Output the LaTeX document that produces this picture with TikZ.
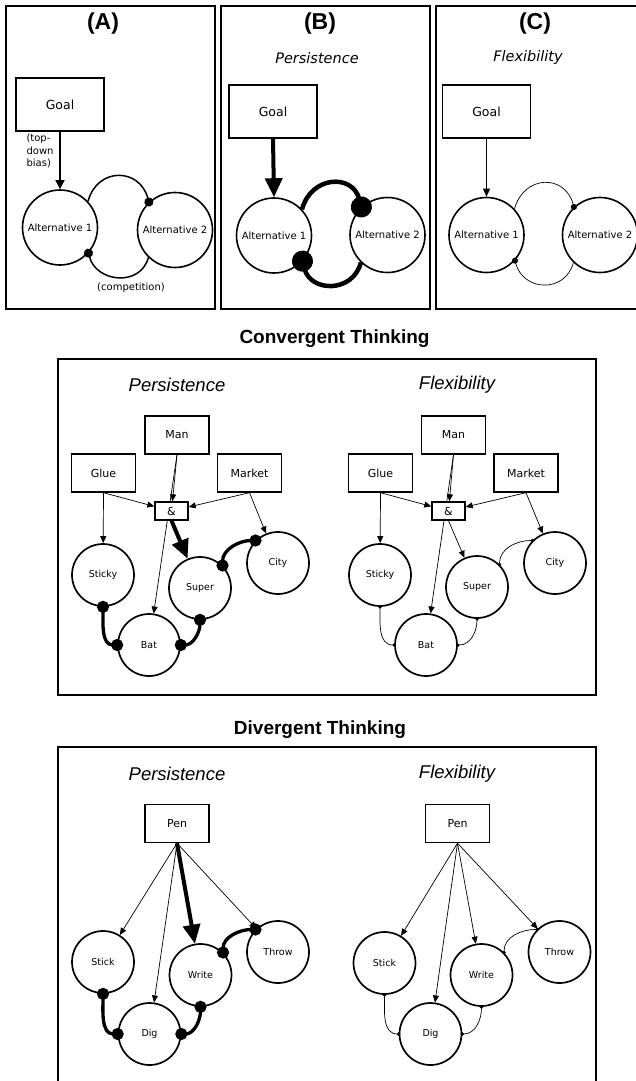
\documentclass[tikz,border=0pt]{standalone}
\usepackage{fontspec}
\setmainfont{DejaVu Sans}
\newfontfamily\headfont{Liberation Sans}
\usetikzlibrary{arrows.meta,backgrounds}

\tikzset{
  panel/.style={draw, line width=1.4pt},
  goalbox/.style={draw, fill=white, line width=1.4pt, minimum width=88pt, minimum height=53pt, font=\fontsize{12.5}{14}\selectfont},
  alt/.style={draw, circle, fill=white, line width=1.6pt, minimum size=75pt, inner sep=1pt, font=\fontsize{10}{12}\selectfont},
  cue/.style={draw, fill=white, line width=1.4pt, minimum width=64pt, minimum height=38pt, inner sep=0pt, font=\fontsize{11}{13}\selectfont},
  andbox/.style={draw, fill=white, line width=1.4pt, minimum width=33pt, minimum height=18pt, inner sep=0pt, font=\fontsize{11}{13}\selectfont},
  idea/.style={draw, circle, fill=white, line width=1.7pt, minimum size=62pt, inner sep=1pt, font=\fontsize{9.5}{11}\selectfont},
  smalltext/.style={font=\fontsize{10}{12.5}\selectfont},
  paneltitle/.style={font=\headfont\bfseries\fontsize{23}{26}\selectfont},
  heading/.style={font=\headfont\bfseries\fontsize{19}{22}\selectfont},
  modetitle/.style={font=\headfont\itshape\fontsize{18.5}{21}\selectfont},
  toptitle/.style={font=\itshape\fontsize{14.5}{17}\selectfont},
  weak/.style={-{Triangle[length=7pt,width=6pt]}, line width=0.7pt},
  strong/.style={-{Triangle[length=19pt,width=17pt]}, line width=4pt},
  biglink/.style={{Circle[length=12pt]}-{Circle[length=12pt]}, line width=3.3pt, shorten <=-6pt, shorten >=-6pt},
  thinlink/.style={{Circle[length=3.5pt]}-{Circle[length=3.5pt]}, line width=0.7pt, shorten <=-1.75pt, shorten >=-1.75pt},
  inhA/.style={-{Circle[length=9pt]}, line width=1.5pt, shorten >=-4.5pt},
  inhB/.style={-{Circle[length=21pt]}, line width=4.5pt, shorten >=-10.5pt},
  inhC/.style={-{Circle[length=6pt]}, line width=0.7pt, shorten >=-3pt},
}

\begin{document}
\begin{tikzpicture}[x=1pt,y=-1pt]
\useasboundingbox (0,0) rectangle (635,1081);

% (A)
\draw[panel] (6,6) rectangle (215,309);
\node[paneltitle] (titleA) at (103,24) {(A)};
\node[goalbox] (goalA) at (60,104.5) {Goal};
\node[alt] (altA1) at (60,227.5) {Alternative 1};
\node[alt] (altA2) at (175,230) {Alternative 2};
\node[smalltext, align=left, anchor=west] (bias) at (23,151) {(top-\\down\\bias)};
\node[smalltext] (comp) at (131,288) {(competition)};
\draw[-{Triangle[length=9pt,width=9pt]}, line width=1.5pt] (goalA) -- (altA1);
\draw[inhA] (altA1.43) to[out=75,in=105,looseness=1.5] (altA2.133);
\draw[inhA] (altA2.-134) to[out=-105,in=-75,looseness=1.3] (altA1.-42);

% (B)
\draw[panel] (221,6) rectangle (430,309);
\node[paneltitle] (titleB) at (320,24) {(B)};
\node[toptitle] (persB) at (317,58) {Persistence};
\node[goalbox] (goalB) at (273,111.5) {Goal};
\node[alt] (altB1) at (274,235.5) {Alternative 1};
\node[alt] (altB2) at (387.5,235) {Alternative 2};
\draw[strong] (goalB.south) -- (altB1.north);
\draw[inhB] (altB1.43) to[out=75,in=105,looseness=1.5] (altB2.133);
\draw[inhB] (altB2.-134) to[out=-105,in=-75,looseness=1.4] (altB1.-42);

% (C)
\draw[panel] (436,6) rectangle (641,309);
\node[paneltitle] (titleC) at (535,24) {(C)};
\node[toptitle] (flexC) at (528,58) {Flexibility};
\node[goalbox] (goalC) at (486.5,111.5) {Goal};
\node[alt] (altC1) at (486.5,235) {Alternative 1};
\node[alt] (altC2) at (600,235) {Alternative 2};
\draw[-{Triangle[length=8pt,width=7pt]}, line width=0.8pt] (goalC.south) -- (altC1.north);
\draw[inhC] (altC1.43) to[out=75,in=105,looseness=1.5] (altC2.133);
\draw[inhC] (altC2.-134) to[out=-105,in=-75,looseness=1.4] (altC1.-42);

% Convergent thinking
\node[heading] (conv) at (334.5,339) {Convergent Thinking};
\draw[panel] (58,359) rectangle (596,695);
\node[modetitle] (cpers) at (177,385) {Persistence};
\node[modetitle] (cflex) at (457,385) {Flexibility};

\node[cue] (man1) at (177,435) {Man};
\node[cue] (glue1) at (103.5,473) {Glue};
\node[cue] (market1) at (249.5,473) {Market};
\node[andbox] (and1) at (171.5,511) {\&};
\node[idea] (sticky1) at (103,575) {Sticky};
\node[idea] (bat1) at (149,645) {Bat};
\node[idea] (super1) at (200,588) {Super};
\node[idea] (city1) at (278,563) {City};
\begin{pgfonlayer}{background}
\draw[weak] (man1.south) -- (bat1);
\end{pgfonlayer}
\draw[weak] (man1.south) -- (and1);
\draw[weak] (glue1.south) -- (sticky1);
\draw[weak] (glue1.south) -- (and1);
\draw[weak] (market1.south) -- (and1);
\draw[weak] (market1.south) -- (city1);
\draw[strong] (and1.south) -- (super1);
\draw[biglink] (sticky1.south) to[out=-90,in=180] (bat1.west);
\draw[biglink] (super1.south) to[out=-90,in=0] (bat1.east);
\draw[biglink] (super1.45) to[out=90,in=180] (city1.135);

\node[cue] (man2) at (453.5,435) {Man};
\node[cue] (glue2) at (380.5,473) {Glue};
\node[cue] (market2) at (526,473) {Market};
\node[andbox] (and2) at (448.5,511) {\&};
\node[idea] (sticky2) at (380,575) {Sticky};
\node[idea] (bat2) at (426,645) {Bat};
\node[idea] (super2) at (477,587) {Super};
\node[idea] (city2) at (555,563) {City};
\begin{pgfonlayer}{background}
\draw[weak] (man2.south) -- (bat2);
\end{pgfonlayer}
\draw[weak] (man2.south) -- (and2);
\draw[weak] (glue2.south) -- (sticky2);
\draw[weak] (glue2.south) -- (and2);
\draw[weak] (market2.south) -- (and2);
\draw[weak] (market2.south) -- (city2);
\draw[weak] (and2.south) -- (super2);
\draw[thinlink] (sticky2.south) to[out=-90,in=180] (bat2.west);
\draw[thinlink] (super2.south) to[out=-90,in=0] (bat2.east);
\draw[thinlink] (super2.45) to[out=90,in=180] (city2.135);

% Divergent thinking
\node[heading] (div) at (320,730) {Divergent Thinking};
\draw[panel] (58,1090) |- (596,747) -- (596,1090);
\node[modetitle] (dpers) at (177,774) {Persistence};
\node[modetitle] (dflex) at (457,774) {Flexibility};

\node[cue] (pen1) at (177,823.5) {Pen};
\node[idea] (stick1) at (103,962) {Stick};
\node[idea] (dig1) at (149.5,1034) {Dig};
\node[idea] (write1) at (200.5,975) {Write};
\node[idea] (throw1) at (278,952) {Throw};
\draw[weak] (pen1.south) -- (stick1);
\draw[weak] (pen1.south) -- (dig1);
\draw[strong] (pen1.south) -- (write1);
\draw[weak] (pen1.south) -- (throw1);
\draw[biglink] (stick1.south) to[out=-90,in=180] (dig1.west);
\draw[biglink] (write1.south) to[out=-90,in=0] (dig1.east);
\draw[biglink] (write1.45) to[out=90,in=180] (throw1.135);

\node[cue] (pen2) at (457.5,823.5) {Pen};
\node[idea] (stick2) at (384.5,963) {Stick};
\node[idea] (dig2) at (430.5,1034) {Dig};
\node[idea] (write2) at (481.5,975) {Write};
\node[idea] (throw2) at (559.5,952) {Throw};
\draw[weak] (pen2.south) -- (stick2);
\draw[weak] (pen2.south) -- (dig2);
\draw[weak] (pen2.south) -- (write2);
\draw[weak] (pen2.south) -- (throw2);
\draw[thinlink] (stick2.south) to[out=-90,in=180] (dig2.west);
\draw[thinlink] (write2.south) to[out=-90,in=0] (dig2.east);
\draw[thinlink] (write2.45) to[out=90,in=180] (throw2.135);
\end{tikzpicture}
\end{document}
